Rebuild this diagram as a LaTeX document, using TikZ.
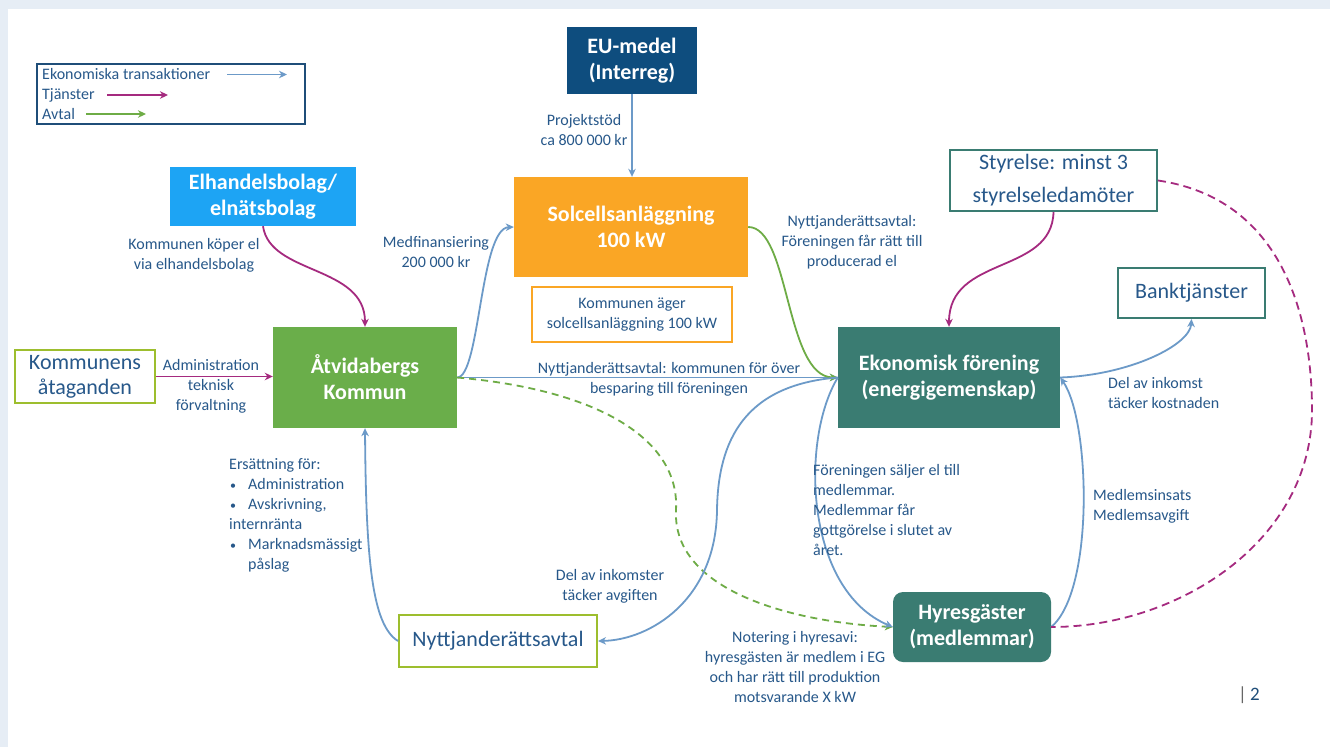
\documentclass[tikz,border=0pt]{standalone}
\usepackage{fontspec}
\setmainfont{Carlito}
\usetikzlibrary{arrows.meta}

\definecolor{pagebg}{HTML}{E6EDF5}
\definecolor{txt}{HTML}{27588A}
\definecolor{euc}{HTML}{0E4D7E}
\definecolor{elc}{HTML}{1DA4F4}
\definecolor{solc}{HTML}{FAA625}
\definecolor{atvc}{HTML}{6AAE4A}
\definecolor{tealc}{HTML}{3A7C72}
\definecolor{limec}{HTML}{9DBE2E}
\definecolor{arrblue}{HTML}{6C9AC8}
\definecolor{arrmag}{HTML}{A52A7F}
\definecolor{arrgreen}{HTML}{6EAC46}
\definecolor{legc}{HTML}{1F4E79}

\newcommand\ttlfont{\fontsize{22}{26}\selectfont\bfseries}
\newcommand\bxfont{\fontsize{22}{25}\selectfont}
\newcommand\lbfont{\fontsize{16}{20}\selectfont}
\newcommand\bul{\makebox[19pt][l]{\hspace*{1pt}\scalebox{0.75}{•}}}

\begin{document}
\begin{tikzpicture}[x=1pt,y=-1pt,
  filled/.style={inner sep=0pt, align=center, text=white, font=\ttlfont},
  outlined/.style={draw, line width=2pt, fill=white, inner sep=0pt, align=center, text=txt, font=\bxfont},
  lbl/.style={inner sep=0pt, align=center, text=txt, font=\lbfont},
  tip/.style={-{Stealth[length=8pt,width=7.5pt,inset=2.5pt]}},
  money/.style={draw=arrblue, line width=1.8pt, tip},
  serv/.style={draw=arrmag, line width=1.8pt, tip},
  deal/.style={draw=arrgreen, line width=1.8pt, tip},
]
% page background
\fill[pagebg] (0,0) rectangle (1330,747);
\fill[white] (8,9) rectangle (1330,747);
\useasboundingbox (0,0) rectangle (1330,747);

% legend
\node[draw=legc, line width=1.2pt, minimum width=268pt, minimum height=60pt, inner sep=0pt] (legend) at (171,94) {};
\node[lbl, anchor=west] (lg1) at (42,74.5) {Ekonomiska transaktioner};
\node[lbl, anchor=west] (lg2) at (42,95) {Tjänster};
\node[lbl, anchor=west] (lg3) at (42,114) {Avtal};
\draw[money] (227,74.5) -- (287,74.5);
\draw[serv] (107,95) -- (168,95);
\draw[deal] (86,114) -- (146,114);

% boxes
\node[filled, fill=euc, minimum width=130pt, minimum height=67pt] (eu) at (632,60.5) {EU-medel\\(Interreg)};
\node[filled, fill=solc, minimum width=234pt, minimum height=100pt] (sol) at (631,227) {Solcellsanläggning\\100 kW};
\node[draw=solc, line width=2pt, fill=white, minimum width=200pt, minimum height=55pt, inner sep=0pt, align=center, text=txt, font=\lbfont] (own) at (632,314.5) {Kommunen äger\\solcellsanläggning 100 kW};
\node[filled, fill=elc, minimum width=186pt, minimum height=59pt] (elh) at (263,196.5) {Elhandelsbolag/\\elnätsbolag};
\node[filled, fill=atvc, minimum width=184pt, minimum height=101pt] (atv) at (365,377.5) {Åtvidabergs\\Kommun};
\node[outlined, draw=limec, minimum width=140pt, minimum height=53pt] (kat) at (85,376.5) {Kommunens\\åtaganden};
\node[outlined, draw=limec, minimum width=198pt, minimum height=52pt] (nyt) at (498,641) {Nyttjanderättsavtal};
\node[outlined, draw=tealc, minimum width=207pt, minimum height=61pt, font=\fontsize{22}{33}\selectfont] (styr) at (1053.5,180.5) {Styrelse: minst 3\\styrelseledamöter};
\node[outlined, draw=tealc, minimum width=147pt, minimum height=50pt] (bank) at (1191.5,293) {Banktjänster};
\node[filled, fill=tealc, minimum width=222pt, minimum height=101pt] (eko) at (949,377.5) {Ekonomisk förening\\(energigemenskap)};
\node[filled, fill=tealc, rounded corners=10pt, minimum width=158pt, minimum height=70pt] (hyr) at (972,627) {Hyresgäster\\(medlemmar)};

% connectors
\draw[money] (eu.south) -- (eu.south |- sol.north);
\draw[serv] (elh.south) .. controls (270,275) and (365,265) .. (atv.north);
\draw[serv] (kat.east) -- (kat.east -| atv.west);
\draw[money] (atv.east) .. controls (480,377) and (480,228) .. (sol.west);
\draw[money] (atv.east) -- (eko.west);
\draw[deal, dash pattern=on 7pt off 5pt] (atv.east) .. controls (600,390) and (680,440) .. (676,510)
   .. controls (672,590) and (790,622) .. (hyr.west);
\draw[deal] (sol.east) .. controls (790,227) and (785,377) .. (eko.west);
\draw[money] (eko.west) .. controls (745,385) and (718,440) .. (717,510)
   .. controls (716,600) and (650,640) .. (nyt.east);
\draw[money] (nyt.west) .. controls (372,625) and (366,560) .. (atv.south);
\draw[money] (eko.west) .. controls (800,440) and (805,590) .. (hyr.west);
\draw[serv] (styr.south) .. controls (1052,275) and (949,255) .. (eko.north);
\draw[money] (eko.east) .. controls (1130,375) and (1190,345) .. (bank.south);
\draw[money] (hyr.east) .. controls (1095,590) and (1090,420) .. (eko.east);
\draw[draw=arrmag, line width=1.8pt, dash pattern=on 8pt off 5pt] (styr.east) .. controls (1290,200) and (1312,330) .. (1312,410)
   .. controls (1312,540) and (1180,627) .. (hyr.east);

% connector labels
\node[lbl] (l1) at (584,130.5) {Projektstöd\\ca 800 000 kr};
\node[lbl] (l2) at (436,252) {Medfinansiering\\200 000 kr};
\node[lbl] (l3) at (194,255.5) {Kommunen köper el\\via elhandelsbolag};
\node[lbl] (l4) at (211,386) {Administration\\teknisk\\förvaltning};
\node[lbl] (l5) at (669,379) {Nyttjanderättsavtal: kommunen för över\\besparing till föreningen};
\node[lbl] (l6) at (852,242.5) {Nyttjanderättsavtal:\\Föreningen får rätt till\\producerad el};
\node[lbl, anchor=west, align=left] (l7) at (1108,393) {Del av inkomst\\täcker kostnaden};
\node[lbl, anchor=west, align=left] (l8) at (1093,506.5) {Medlemsinsats\\Medlemsavgift};
\node[lbl, anchor=west, align=left] (l9) at (813,510) {Föreningen säljer el till\\medlemmar.\\Medlemmar får\\gottgörelse i slutet av\\året.};
\node[lbl] (l10) at (610,586) {Del av inkomster\\täcker avgiften};
\node[lbl] (l11) at (795,667) {Notering i hyresavi:\\hyresgästen är medlem i EG\\och har rätt till produktion\\motsvarande X kW};
\node[lbl, anchor=north west, align=left] (l12) at (229,458) {Ersättning för:\\
  \bul Administration\\
  \bul Avskrivning,\\
  internränta\\
  \bul Marknadsmässigt\\
  \hspace*{19pt}påslag};

% page number
\node[text=legc, font=\fontsize{19}{22}\selectfont, inner sep=0pt] (pg) at (1249,695) {{\color{gray!80!black}|}\,2};
\end{tikzpicture}
\end{document}
